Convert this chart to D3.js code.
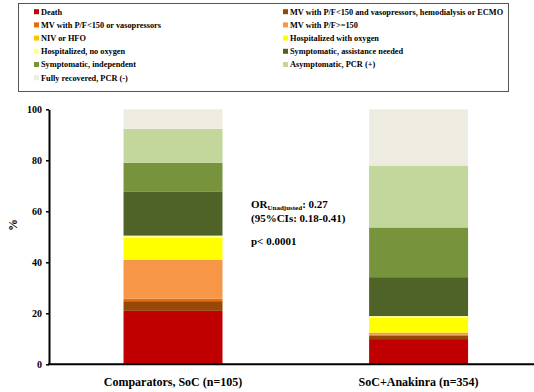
<!DOCTYPE html>
<html>
<head>
<meta charset="utf-8">
<script src="https://cdn.jsdelivr.net/npm/d3@7/dist/d3.min.js"></script>
<style>
  html, body { margin: 0; padding: 0; background: #fff; }
  svg { display: block; }
</style>
</head>
<body>
<svg id="chart" width="534" height="392"></svg>
<script>
// Outcome categories, bottom of the stack first
const outcomes = [
  "Death",
  "MV with P/F<150 and vasopressors, hemodialysis or ECMO",
  "MV with P/F<150 or vasopressors",
  "MV with P/F>=150",
  "NIV or HFO",
  "Hospitalized with oxygen",
  "Hospitalized, no oxygen",
  "Symptomatic, assistance needed",
  "Symptomatic, independent",
  "Asymptomatic, PCR (+)",
  "Fully recovered, PCR (-)"
];
const outcomeColors = [
  "#C00000", "#974706", "#E46C0A", "#F79646", "#FFC000", "#FFFF00",
  "#FFFF99", "#4F6228", "#77933C", "#C3D69B", "#EEECE1"
];

// Treatment groups
const groups = ["Comparators, SoC (n=105)", "SoC+Anakinra (n=354)"];
// Percent of patients in each outcome category (same order as outcomes)
const comparatorsPct = [20.95, 3.81, 0.95, 15.24, 0, 8.57, 0.95, 17.14, 11.43, 13.33, 7.62];
const anakinraPct    = [9.89, 1.41, 0.28, 0.85, 0, 5.93, 0.56, 15.25, 19.49, 24.29, 22.03];

const yTicks = [0, 20, 40, 60, 80, 100];

// Legend layout: left column and right column entries (indices into outcomes)
const legendLeft  = [0, 2, 4, 6, 8, 10];
const legendRight = [1, 3, 5, 7, 9];

const SERIF = "'Liberation Serif', 'Times New Roman', serif";
const svg = d3.select("#chart")
  .attr("font-family", SERIF)
  .attr("font-weight", "bold");

// ----- legend -----
const legend = svg.append("g");
legend.append("rect")
  .attr("x", 18.5).attr("y", 3.5).attr("width", 490).attr("height", 88)
  .attr("fill", "#fff").attr("stroke", "#555").attr("stroke-width", 1);

const rowY = i => 11.7 + i * 13.2;
function legendColumn(indices, xSq) {
  const g = legend.append("g");
  const items = g.selectAll("g").data(indices).join("g")
    .attr("transform", (d, i) => `translate(${xSq},${rowY(i)})`);
  items.append("rect")
    .attr("x", 0).attr("y", -2.5).attr("width", 5).attr("height", 5)
    .attr("fill", d => outcomeColors[d]);
  items.append("text")
    .attr("x", 7).attr("y", 0).attr("dy", "0.35em")
    .attr("font-family", SERIF).attr("font-weight", "bold")
    .attr("font-size", 8.3).attr("fill", "#000")
    .text(d => outcomes[d]);
}
legendColumn(legendLeft, 34);
legendColumn(legendRight, 283);

// ----- scales -----
const y = d3.scaleLinear().domain([0, 100]).range([364.3, 109.3]);
const x = d3.scaleBand().domain(groups)
  .range([49, 542.6]).paddingInner(0.597).paddingOuter(0.3035);

// ----- stacked bars -----
const rows = groups.map((g, gi) => {
  const vals = gi === 0 ? comparatorsPct : anakinraPct;
  const r = { group: g };
  outcomes.forEach((o, i) => { r[o] = vals[i]; });
  return r;
});
const series = d3.stack().keys(outcomes)(rows);

svg.append("g").selectAll("g").data(series).join("g")
  .attr("fill", (d, i) => outcomeColors[i])
  .selectAll("rect").data(d => d).join("rect")
  .attr("x", d => x(d.data.group))
  .attr("width", x.bandwidth())
  .attr("y", d => y(d[1]))
  .attr("height", d => Math.max(0, y(d[0]) - y(d[1])));

// ----- axes -----
const yAxis = svg.append("g")
  .attr("transform", "translate(49,0)")
  .call(d3.axisLeft(y).tickValues(yTicks).tickSize(3).tickPadding(4).tickSizeOuter(0));
yAxis.attr("font-family", SERIF).attr("font-weight", "bold");
yAxis.select(".domain").attr("stroke", "#000").attr("stroke-width", 2);
yAxis.selectAll(".tick line").attr("stroke", "#000").attr("stroke-width", 1.5);
yAxis.selectAll(".tick text")
  .attr("font-size", 10).attr("fill", "#000");

const xAxis = svg.append("g")
  .attr("transform", "translate(0,364.3)")
  .call(d3.axisBottom(x).tickSize(0).tickPadding(13));
xAxis.attr("font-family", SERIF).attr("font-weight", "bold");
xAxis.select(".domain").attr("d", "M48,0H534").attr("stroke", "#000").attr("stroke-width", 2);
xAxis.selectAll(".tick text")
  .attr("font-size", 12).attr("fill", "#000");

// y-axis title
svg.append("text")
  .attr("transform", "translate(17,225) rotate(-90)")
  .attr("text-anchor", "middle")
  .attr("font-family", SERIF).attr("font-weight", "bold")
  .attr("font-size", 12).attr("fill", "#000")
  .text("%");

// ----- odds ratio annotation -----
const note = svg.append("g")
  .attr("font-family", SERIF).attr("font-weight", "bold")
  .attr("font-size", 11).attr("fill", "#000");
const orLine = note.append("text").attr("x", 251).attr("y", 208);
orLine.append("tspan").text("OR");
orLine.append("tspan").attr("font-size", 7).attr("dy", 2).text("Unadjusted");
orLine.append("tspan").attr("dy", -2).text(": 0.27");
note.append("text").attr("x", 251).attr("y", 222).text("(95%CIs: 0.18-0.41)");
note.append("text").attr("x", 251).attr("y", 245).text("p< 0.0001");
</script>
</body>
</html>
